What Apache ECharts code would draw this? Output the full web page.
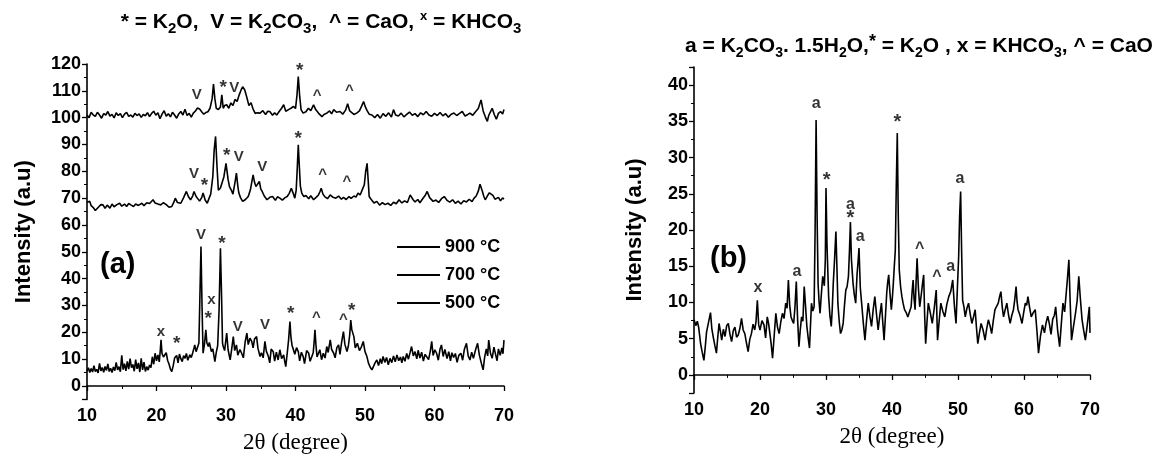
<!DOCTYPE html>
<html><head><meta charset="utf-8">
<script src="https://cdn.jsdelivr.net/npm/echarts@6/dist/echarts.min.js"></script>
<style>html,body{margin:0;padding:0;background:#fff}#c{width:1164px;height:460px}</style>
</head><body><div id="c"></div>
<script>
// ---------- Panel (a): XRD patterns at three temperatures, [2theta, intensity] ----------
const s900 = [[10,101],[10.3,100],[10.6,102],[10.9,101],[11.2,100.5],[11.5,102],[11.8,101],[12.1,99.8],[12.4,101.5],[12.7,101],[13,102.3],[13.3,100.6],[13.6,101.2],[13.9,99.9],[14.2,101.8],[14.5,100.8],[14.8,101.5],[15.1,100],[15.4,101.3],[15.7,102],[16,100.5],[16.3,101],[16.6,100.2],[16.9,101.6],[17.2,100.8],[17.5,101.4],[17.8,100.1],[18.1,101.2],[18.4,100.7],[18.7,101.9],[19,100.4],[19.3,101.6],[19.6,102.4],[19.9,100.9],[20.2,101.8],[20.5,99.6],[20.8,101.3],[21.1,102.6],[21.4,100.5],[21.7,101.5],[22,100.3],[22.3,102],[22.6,101],[22.9,99.8],[23.2,101.4],[23.5,102.3],[23.8,101],[24.1,103.1],[24.4,100.8],[24.7,101.6],[25,100.2],[25.3,101.7],[25.6,102.5],[25.9,103.6],[26.2,103.2],[26.5,102.2],[26.8,101.3],[27.1,101.9],[27.4,102.2],[27.7,103.5],[28,107],[28.2,112.5],[28.4,107],[28.6,103.5],[28.9,103],[29.2,104],[29.4,108.5],[29.6,103.5],[29.8,104.5],[30.1,104.8],[30.4,103.5],[30.7,105.5],[31,104.5],[31.3,106.8],[31.6,106],[31.9,108.5],[32.2,110.5],[32.4,111.5],[32.7,110.3],[33,107.5],[33.3,104.5],[33.6,105.6],[33.9,103.2],[34.2,101.6],[34.5,101.8],[34.9,101.7],[35.3,102.6],[35.7,101.2],[36,102.4],[36.3,102.3],[36.7,100.9],[37,101.8],[37.3,101],[37.7,102.5],[38,103.5],[38.3,104.8],[38.6,102.4],[39,103],[39.4,103.6],[39.7,104.2],[40,103.4],[40.2,108],[40.4,115.3],[40.6,108],[40.8,103],[41.1,101.7],[41.5,102.2],[41.85,103.5],[42.2,102.6],[42.6,104.8],[42.9,103],[43.3,101.7],[43.8,100.4],[44.1,101.2],[44.5,101.7],[44.9,102.5],[45.2,101.4],[45.5,103],[45.9,102],[46.4,102.3],[46.8,101.3],[47.2,102.8],[47.5,105.2],[47.8,102.5],[48,102.3],[48.4,101.2],[48.8,101.7],[49.2,102.5],[49.5,104.2],[49.8,106],[50.05,104],[50.3,102.6],[50.6,101.3],[51,101],[51.4,100],[51.8,101.2],[52.2,99.8],[52.6,101.5],[53,100.5],[53.4,101.8],[53.8,100.2],[54.1,103],[54.4,101],[54.8,100.6],[55.2,101.7],[55.6,100.3],[56,101.2],[56.4,102.1],[56.8,100.9],[57.2,101.5],[57.6,100.4],[58,101.8],[58.4,101.1],[58.8,102.3],[59.2,101],[59.6,100.5],[60,101.6],[60.4,100.8],[60.8,101.9],[61.2,100.7],[61.6,101.5],[62,100.2],[62.4,101.3],[62.8,101.7],[63.2,100.8],[63.6,101.6],[64,102.3],[64.4,100.6],[64.8,101.2],[65.1,101.7],[65.5,100.9],[65.9,102.2],[66.3,103.4],[66.7,106.6],[67,102.5],[67.3,100.4],[67.6,98.6],[67.8,100.8],[68.1,102.4],[68.3,103.5],[68.6,101.2],[68.9,99.4],[69.2,101.6],[69.5,102.3],[69.8,101.4],[70,103]];

const s700 = [[10,68.5],[10.2,69],[10.4,68.8],[10.6,67.2],[10.9,66.5],[11.2,65.4],[11.4,65],[11.7,66.8],[12,67.6],[12.3,67.5],[12.6,66.2],[12.9,67.4],[13.3,66.3],[13.6,67.8],[13.9,66.8],[14.3,67.6],[14.7,68.1],[15,67],[15.4,67.8],[15.7,66.9],[16,68],[16.3,67.5],[16.7,66.9],[17,67.8],[17.4,67.3],[17.9,68.1],[18.2,67.2],[18.6,68.3],[19,68],[19.5,69.4],[19.8,68.2],[20.2,67.8],[20.6,67.5],[21,68.3],[21.4,67.6],[21.8,66.6],[22.2,66.9],[22.5,68.5],[22.7,70],[23,68.4],[23.5,68.1],[23.9,70.2],[24.3,72.5],[24.6,70.5],[24.9,69.4],[25.2,70.8],[25.4,72.5],[25.7,70.6],[25.9,70],[26.2,68.9],[26.5,70.2],[26.7,71.9],[27,69.3],[27.3,68.1],[27.6,70.2],[27.8,71.5],[28.1,78],[28.3,88],[28.5,93],[28.7,82],[28.9,73],[29.2,73.8],[29.4,74.3],[29.7,78],[30,83],[30.3,77],[30.5,74.3],[30.8,72.8],[31,71.5],[31.3,76],[31.5,79.3],[31.7,74.5],[31.85,71.9],[32.1,70.1],[32.4,68.8],[32.8,69.5],[33.2,70.6],[33.5,73],[33.9,78.7],[34.1,76],[34.3,74.3],[34.55,74.6],[34.8,76.2],[35,73.5],[35.2,72.5],[35.5,70.8],[35.9,69.4],[36.3,70.3],[36.7,70.6],[37.1,69.2],[37.4,70.5],[37.75,70],[38.1,69.3],[38.5,70.2],[38.8,70.6],[39.1,71.8],[39.4,73.7],[39.7,71.6],[39.9,70],[40.1,73],[40.25,81],[40.4,89.9],[40.55,82],[40.7,74.5],[40.9,71.9],[41.2,70.6],[41.5,71],[41.9,69.8],[42.2,70.9],[42.6,69.4],[43,70.4],[43.3,71.2],[43.5,72.3],[43.7,73.7],[43.95,71.5],[44.2,70.6],[44.6,69.8],[45,71.2],[45.4,70.3],[45.8,70],[46.2,70.8],[46.6,69.6],[46.9,70.3],[47.3,69.5],[47.7,70.6],[48,69.9],[48.4,70.8],[48.7,70.4],[49,71.9],[49.3,71.2],[49.6,73.1],[49.9,75],[50.1,80],[50.3,83],[50.45,77],[50.6,70.6],[50.9,69.5],[51.3,68.2],[51.7,68.8],[52.1,67.4],[52.5,68.3],[52.9,67.6],[53.3,68.1],[53.7,67.3],[54.1,68.5],[54.5,67.9],[54.9,69.4],[55.3,68.2],[55.7,69],[56.1,68.4],[56.5,71.2],[56.9,69.5],[57.2,68.6],[57.6,69.5],[57.9,68.3],[58.3,69.8],[58.7,71.2],[58.95,72.5],[59.3,70.2],[59.8,68.8],[60.2,69.3],[60.6,68.4],[61,69.8],[61.4,70.6],[61.8,69.2],[62.2,68.5],[62.6,69.4],[63,68.1],[63.4,68.9],[63.8,67.8],[64.2,69],[64.6,68.6],[65,69.6],[65.4,68.7],[65.7,70],[66,70.8],[66.3,72.6],[66.55,75.2],[66.7,75.6],[66.9,72.5],[67.1,70.6],[67.3,69.4],[67.6,70.8],[67.9,72],[68.1,72.5],[68.4,71],[68.7,69.6],[68.9,69.4],[69.2,70.3],[69.5,69],[69.8,70.1],[70,69.6]];

const s500 = [[10,5.5],[10.2,6.8],[10.4,5],[10.6,6.5],[10.8,5.2],[11,7.6],[11.2,5.4],[11.4,6.2],[11.6,4.9],[11.8,8.4],[12,5.6],[12.2,6.9],[12.4,5.1],[12.6,7.3],[12.8,5.8],[13,8.2],[13.2,5.4],[13.4,6.6],[13.6,5],[13.8,7.1],[14,5.7],[14.2,8.8],[14.4,6],[14.6,7.2],[14.8,5.3],[15,11.4],[15.2,6.1],[15.4,8.3],[15.6,5.6],[15.8,9.2],[16,6.3],[16.2,10.2],[16.4,6.8],[16.6,8],[16.8,5.5],[17,9.8],[17.2,6.4],[17.4,8.6],[17.6,5.2],[17.8,10.3],[18,6],[18.2,8.9],[18.4,5.4],[18.6,7.2],[18.8,5.9],[19,7.8],[19.2,6.8],[19.4,10.9],[19.6,8.1],[19.8,12.2],[20,9.4],[20.2,11.6],[20.4,9],[20.55,13.5],[20.65,17.2],[20.8,12],[21,10.8],[21.2,10.3],[21.4,12.4],[21.6,9.5],[21.8,8.2],[22,6.3],[22.2,5.4],[22.4,7.5],[22.6,10.4],[22.7,9.7],[22.9,11.4],[23.1,8.6],[23.3,11.9],[23.5,10.2],[23.7,9.1],[23.9,11.3],[24.1,10.3],[24.3,12.1],[24.5,9.6],[24.8,11.6],[25,10.6],[25.2,12.3],[25.4,14.2],[25.5,15.3],[25.7,12.8],[25.9,12.2],[26.1,16],[26.25,34],[26.4,52],[26.55,30],[26.7,12.2],[26.9,15.6],[27.1,20.9],[27.25,16],[27.45,14.7],[27.6,16.2],[27.9,12.8],[28.1,13.8],[28.4,9.1],[28.6,12.5],[28.8,15],[29,28],[29.2,51.3],[29.35,35],[29.5,16],[29.6,14.7],[29.8,13.2],[30.1,19.7],[30.3,13.5],[30.6,9.7],[30.8,13.4],[31.05,18.4],[31.25,13.2],[31.5,15.3],[31.7,11.5],[32,13.6],[32.25,12.2],[32.5,10.5],[32.75,16.3],[33,19.7],[33.2,15.4],[33.45,17.8],[33.7,16.6],[33.9,14.2],[34.1,17.5],[34.4,18.4],[34.6,14],[34.9,11],[35.1,12.4],[35.35,10.5],[35.6,16.6],[35.8,13],[36.1,11],[36.3,8.6],[36.5,13.8],[36.8,12.8],[37,9.3],[37.25,12.6],[37.5,9.7],[37.75,13.5],[38,10.2],[38.3,11.6],[38.45,9.2],[38.6,7.2],[38.8,12],[39,17],[39.2,24],[39.35,18],[39.5,15.2],[39.7,14.7],[39.9,11.8],[40.15,14.3],[40.4,12.8],[40.6,9.4],[40.85,12.6],[41.1,11],[41.3,8.3],[41.6,13.2],[41.9,12.2],[42.1,9.2],[42.3,9.7],[42.55,12.4],[42.7,17],[42.8,20.9],[42.95,15],[43.1,10.8],[43.3,10.3],[43.5,13.5],[43.75,9.8],[44,12.2],[44.25,10.4],[44.5,14.7],[44.7,12.5],[45,17.2],[45.2,13.6],[45.5,12.2],[45.7,10.5],[45.95,14.3],[46.2,15.3],[46.4,11.8],[46.65,16.5],[46.9,20.3],[47.1,15.6],[47.4,12.8],[47.6,14.8],[47.8,19],[47.95,24.6],[48.1,21],[48.4,18.4],[48.6,14.2],[48.9,15.9],[49.2,13.2],[49.5,14.7],[49.75,16.6],[50,12.8],[50.25,11.2],[50.5,8.5],[50.75,7],[51,6],[51.2,5.4],[51.45,8.6],[51.7,9.7],[51.95,7.6],[52.2,10.2],[52.4,8.3],[52.6,11],[52.85,8.8],[53.1,10.6],[53.35,7.9],[53.6,10.3],[53.85,8.7],[54.1,11.2],[54.35,9],[54.6,11.6],[54.85,9.4],[55.1,10.8],[55.3,8.6],[55.5,11],[55.75,9.2],[56,12.1],[56.25,10],[56.5,12.6],[56.7,14.7],[56.95,11.2],[57.2,12.8],[57.45,10.1],[57.65,13.3],[57.9,10.4],[58.15,12.6],[58.4,9.3],[58.65,11.8],[58.9,12.4],[59.15,9.8],[59.4,13.1],[59.6,16.6],[59.8,11.4],[60.05,13.5],[60.3,12.2],[60.55,9.6],[60.8,13.8],[61,15.3],[61.25,11],[61.5,13.6],[61.8,10.2],[62.05,12.8],[62.3,9.4],[62.5,12.4],[62.75,10.6],[63,12.1],[63.25,8.8],[63.5,11.4],[63.8,12.2],[64.05,9.6],[64.3,13.7],[64.6,15.9],[64.85,11.2],[65.1,9.7],[65.35,12.6],[65.6,10.3],[65.9,13.4],[66.2,15.9],[66.45,11.6],[66.7,8.9],[66.85,7.4],[67,6],[67.2,10.5],[67.45,13.8],[67.65,11.2],[67.8,17.1],[68.05,12.2],[68.3,10.3],[68.55,14.5],[68.8,11.6],[69,9.4],[69.2,13.8],[69.45,11.4],[69.7,14.2],[69.85,12],[70,17.1]];

// ---------- Panel (b) ----------
const sB = [[10,7.6],[10.3,6.8],[10.5,7.4],[10.7,6.6],[10.85,5.5],[11,4.3],[11.25,3.1],[11.5,2],[11.7,3.8],[11.9,5.9],[12.2,5.7],[12.5,8.6],[12.7,6.4],[12.9,5.3],[13.15,4.1],[13.4,3],[13.6,5.2],[13.8,7.1],[14,6],[14.2,4.8],[14.45,6.3],[14.7,5.3],[14.95,6.8],[15.2,7.1],[15.45,5.6],[15.7,4.6],[15.95,6.1],[16.2,6.6],[16.45,5.2],[16.7,5.5],[16.95,6.4],[17.2,7.8],[17.45,6.2],[17.7,5.7],[17.95,4.4],[18.2,3.2],[18.45,4.9],[18.7,5.7],[18.95,7],[19.2,6.2],[19.4,7.4],[19.6,10.3],[19.8,6.9],[20,6.2],[20.3,7.5],[20.6,6.9],[20.85,5.1],[21.1,8],[21.3,7.1],[21.5,5.7],[21.7,4.2],[21.9,2.3],[22.15,5.4],[22.4,8.5],[22.65,6.6],[22.9,5.7],[23.15,7.3],[23.4,8.5],[23.65,7.8],[23.9,9.9],[24.1,9.2],[24.3,13.1],[24.5,9.6],[24.7,8],[24.9,7.5],[25.1,7.1],[25.3,9.4],[25.5,12.9],[25.7,7.6],[25.9,3.9],[26.1,6.2],[26.3,8],[26.5,7.4],[26.7,12.2],[26.9,9.5],[27.1,6.7],[27.3,5.1],[27.5,3.7],[27.65,6.8],[27.8,9.9],[28,8.8],[28.2,9.4],[28.35,20],[28.5,35.2],[28.65,22],[28.8,12.6],[28.95,10.1],[29.1,8.5],[29.3,11.2],[29.5,13.6],[29.75,12.3],[29.9,16],[30,25.8],[30.15,18],[30.4,10.8],[30.6,8.1],[30.8,6.7],[30.95,9.2],[31.1,12.6],[31.3,16],[31.5,19.8],[31.65,15],[31.8,9.9],[32,7.4],[32.2,5.7],[32.4,6.2],[32.6,7.1],[32.8,9.6],[33,11.7],[33.2,12.2],[33.4,13.6],[33.55,17],[33.7,21.1],[33.85,16],[34.1,12.6],[34.3,11],[34.5,9.9],[34.7,13.8],[34.85,15.5],[35,17.5],[35.2,12],[35.4,9.9],[35.65,7.2],[35.9,4.8],[36.15,7.6],[36.4,9.9],[36.65,8.1],[36.9,6.7],[37.15,9],[37.4,10.8],[37.65,8.4],[37.9,6.2],[38.15,8.2],[38.4,9.9],[38.6,7.3],[38.8,4.8],[39,8],[39.2,11.3],[39.35,12.8],[39.5,13.8],[39.7,11.2],[39.9,9],[40.05,10.6],[40.2,12.6],[40.35,15],[40.5,17.2],[40.65,26],[40.8,33.4],[40.95,22],[41.1,14.5],[41.3,12.2],[41.5,10.8],[41.7,9.8],[41.9,9],[42.15,8.6],[42.4,8],[42.65,8.7],[42.9,9.4],[43.05,11.5],[43.2,13.1],[43.35,10.4],[43.5,9],[43.65,12.8],[43.8,16.1],[44,12],[44.2,9.4],[44.45,11.2],[44.65,12.8],[44.8,13.8],[44.95,8.2],[45.1,4.3],[45.3,7.3],[45.5,9.9],[45.8,8.6],[46.1,7.1],[46.4,9.2],[46.7,11.7],[46.9,4.8],[47.15,7.5],[47.4,9.9],[47.7,8.8],[48,8],[48.3,9.7],[48.6,10.8],[48.9,11.5],[49.2,13.1],[49.45,9.6],[49.7,7.1],[49.9,11.8],[50.1,16.3],[50.25,22],[50.4,25.3],[50.55,17],[50.7,10.3],[50.9,9.4],[51.1,8],[51.35,9.2],[51.6,9.9],[51.85,8.4],[52.1,7.1],[52.35,8],[52.6,9],[52.8,6.5],[53,4.3],[53.25,5.8],[53.5,7.1],[53.8,6.2],[54.1,4.8],[54.35,6.4],[54.6,7.6],[54.85,6.8],[55.1,5.7],[55.35,7.5],[55.6,9],[55.85,9.2],[56.1,9.9],[56.3,10.8],[56.5,11.5],[56.7,9.4],[56.9,8],[57.15,9],[57.4,9.9],[57.65,8.3],[57.9,7.1],[58.15,8.2],[58.4,9],[58.6,10.4],[58.8,12.2],[58.95,10.1],[59.1,9],[59.4,8.2],[59.7,7.1],[59.95,8.6],[60.2,9.9],[60.4,9.6],[60.6,10.8],[60.85,9.3],[61.1,8],[61.4,8.6],[61.7,9],[61.95,6.2],[62.2,3],[62.5,5.4],[62.8,6.9],[63.1,5.8],[63.35,7.2],[63.6,8.1],[63.85,7],[64.1,5.6],[64.35,7.7],[64.6,8.2],[64.8,9.4],[65.1,6.1],[65.4,3.9],[65.65,7],[65.9,9.9],[66.15,8.7],[66.4,11.3],[66.6,13.5],[66.8,15.9],[67,10],[67.2,4.8],[67.5,6.7],[67.8,8.5],[68.05,10.2],[68.3,13.6],[68.55,10.4],[68.8,7.6],[69.05,6.1],[69.3,4.8],[69.6,7],[69.9,9.4],[70,5.8]];

// ---------- Peak annotations ----------
const annATheta = [25.8,29.6,31.2,40.6,43.1,47.75, 25.4,26.9,30.1,31.85,35.2,40.4,43.9,47.4, 20.65,22.9,26.4,27.45,27.9,29.4,31.7,35.6,39.3,43.0,46.9,48.1];
const annAValue = [108.5,112.5,111,119,108,110, 79,76,87.4,85.5,81.8,93.6,78.7,76.2, 20.3,17.2,56.3,26.5,32.1,54.4,22.2,22.8,28.4,25.3,24.6,29.4];
const annAText  = ['V','*','V','*','^','^', 'V','*','*','V','V','*','^','^', 'x','*','V','*','x','*','V','V','*','^','^','*'];

const annBTheta = [19.7,25.6,28.5,30.1,33.7,33.7,35.2,40.8,44.2,46.8,48.9,50.3];
const annBValue = [12,14.2,37.5,27.4,23.5,22.1,19.1,35.4,17.5,13.6,15,27.1];
const annBText  = ['x','a','a','*','a','*','a','*','^','^','a','a'];

const legendNames = ['900 °C','700 °C','500 °C'];
const xTicks = [10,20,30,40,50,60,70];

const SANS = 'Liberation Sans, Arial, sans-serif';
const SERIF = 'Liberation Serif, Times New Roman, serif';

function annItems(th, va, tx, base) {
  return th.map((t, i) => ({
    value: [t, va[i]],
    label: {
      formatter: tx[i],
      fontSize: tx[i] === '*' ? base + 4 : base,
      offset: tx[i] === '*' ? [0, 4] : [0, 0]
    }
  }));
}

function xAxisCfg(gi) {
  return {
    gridIndex: gi, type: 'value', min: xTicks[0], max: xTicks[xTicks.length - 1], interval: 10,
    name: '2θ (degree)', nameLocation: 'middle', nameGap: 32,
    nameTextStyle: {fontFamily: SERIF, fontSize: 23, color: '#000'},
    axisLine: {show: true, lineStyle: {color: '#000', width: 1.6}},
    axisTick: {show: true, length: 5, lineStyle: {color: '#000', width: 1.3}},
    minorTick: {show: true, splitNumber: 2, length: 3, lineStyle: {color: '#000', width: 1}},
    axisLabel: {fontFamily: SANS, fontWeight: 'bold', fontSize: 18, color: '#000', margin: 8},
    splitLine: {show: false}
  };
}
function yAxisCfg(gi, min, max, split, gap) {
  return {
    gridIndex: gi, type: 'value', min: min, max: max, splitNumber: split,
    name: 'Intensity (a.u)', nameLocation: 'middle', nameRotate: 90, nameGap: gap,
    nameTextStyle: {fontFamily: SANS, fontWeight: 'bold', fontSize: 22, color: '#000'},
    axisLine: {show: true, lineStyle: {color: '#000', width: 1.6}},
    axisTick: {show: true, length: 5, lineStyle: {color: '#000', width: 1.3}},
    minorTick: {show: true, splitNumber: 2, length: 3, lineStyle: {color: '#000', width: 1}},
    axisLabel: {fontFamily: SANS, fontWeight: 'bold', fontSize: 18, color: '#000', margin: 6,
      formatter: v => (v < 0 || v % 5 !== 0) ? '' : String(v)},
    splitLine: {show: false}
  };
}

const lineBase = {type: 'line', symbol: 'none', showSymbol: false, animation: false,
  lineStyle: {color: '#000', width: 1.6}, itemStyle: {color: '#000'}};

const chart = echarts.init(document.getElementById('c'), null, {renderer: 'canvas'});
chart.setOption({
  backgroundColor: '#fff',
  animation: false,
  title: [
    {text: '{n|* = K}{s|2}{n|O,  V = K}{s|2}{n|CO}{s|3}{n|,  ^ = CaO, }{p|x}{n| = KHCO}{s|3}',
     left: 316, top: 3, textAlign: 'center',
     textStyle: {rich: {
       n: {fontFamily: SANS, fontWeight: 'bold', fontSize: 21, color: '#000'},
       s: {fontFamily: SANS, fontWeight: 'bold', fontSize: 15, color: '#000', padding: [13, 0, 0, 0]},
       p: {fontFamily: SANS, fontWeight: 'bold', fontSize: 13, color: '#000', padding: [0, 0, 12, 0]}}}},
    {text: '{n|a = K}{s|2}{n|CO}{s|3}{n|. 1.5H}{s|2}{n|O,}{p|*}{n| = K}{s|2}{n|O , x = KHCO}{s|3}{n|, ^ = CaO}',
     left: 914, top: 28, textAlign: 'center',
     textStyle: {rich: {
       n: {fontFamily: SANS, fontWeight: 'bold', fontSize: 21, color: '#000'},
       s: {fontFamily: SANS, fontWeight: 'bold', fontSize: 14, color: '#000', padding: [13, 0, 0, 0]},
       p: {fontFamily: SANS, fontWeight: 'bold', fontSize: 18, color: '#000', padding: [0, 0, 9, 0]}}}}
  ],
  legend: {
    data: legendNames, orient: 'vertical', left: 392, top: 233, itemWidth: 43, itemHeight: 2, itemGap: 10,
    icon: 'path://M0,0H43V2H0Z',
    textStyle: {fontFamily: SANS, fontWeight: 'bold', fontSize: 18, color: '#000'}
  },
  grid: [
    {left: 87, right: 660, top: 64, bottom: 60.6},
    {left: 694, right: 74, top: 67, bottom: 67}
  ],
  xAxis: [xAxisCfg(0), xAxisCfg(1)],
  yAxis: [yAxisCfg(0, -5, 120, 12, 52), yAxisCfg(1, -2.5, 42.5, 9, 48)],
  graphic: [
    {type: 'text', left: 100, top: 250, style: {text: '(a)', fontFamily: SANS, fontWeight: 'bold', fontSize: 29, fill: '#000'}},
    {type: 'text', left: 710, top: 244, style: {text: '(b)', fontFamily: SANS, fontWeight: 'bold', fontSize: 29, fill: '#000'}}
  ],
  series: [
    Object.assign({name: legendNames[0], xAxisIndex: 0, yAxisIndex: 0, data: s900}, lineBase),
    Object.assign({name: legendNames[1], xAxisIndex: 0, yAxisIndex: 0, data: s700}, lineBase),
    Object.assign({name: legendNames[2], xAxisIndex: 0, yAxisIndex: 0, data: s500}, lineBase),
    Object.assign({name: 'b', xAxisIndex: 1, yAxisIndex: 1, data: sB}, lineBase),
    {type: 'scatter', name: 'annA', xAxisIndex: 0, yAxisIndex: 0, symbolSize: 1, itemStyle: {color: 'rgba(0,0,0,0)'},
     label: {show: true, position: 'inside', fontFamily: SANS, fontWeight: 'bold', color: '#000'},
     data: annItems(annATheta, annAValue, annAText, 15), silent: true},
    {type: 'scatter', name: 'annB', xAxisIndex: 1, yAxisIndex: 1, symbolSize: 1, itemStyle: {color: 'rgba(0,0,0,0)'},
     label: {show: true, position: 'inside', fontFamily: SANS, fontWeight: 'bold', color: '#000'},
     data: annItems(annBTheta, annBValue, annBText, 16), silent: true}
  ]
});
</script>
</body></html>
